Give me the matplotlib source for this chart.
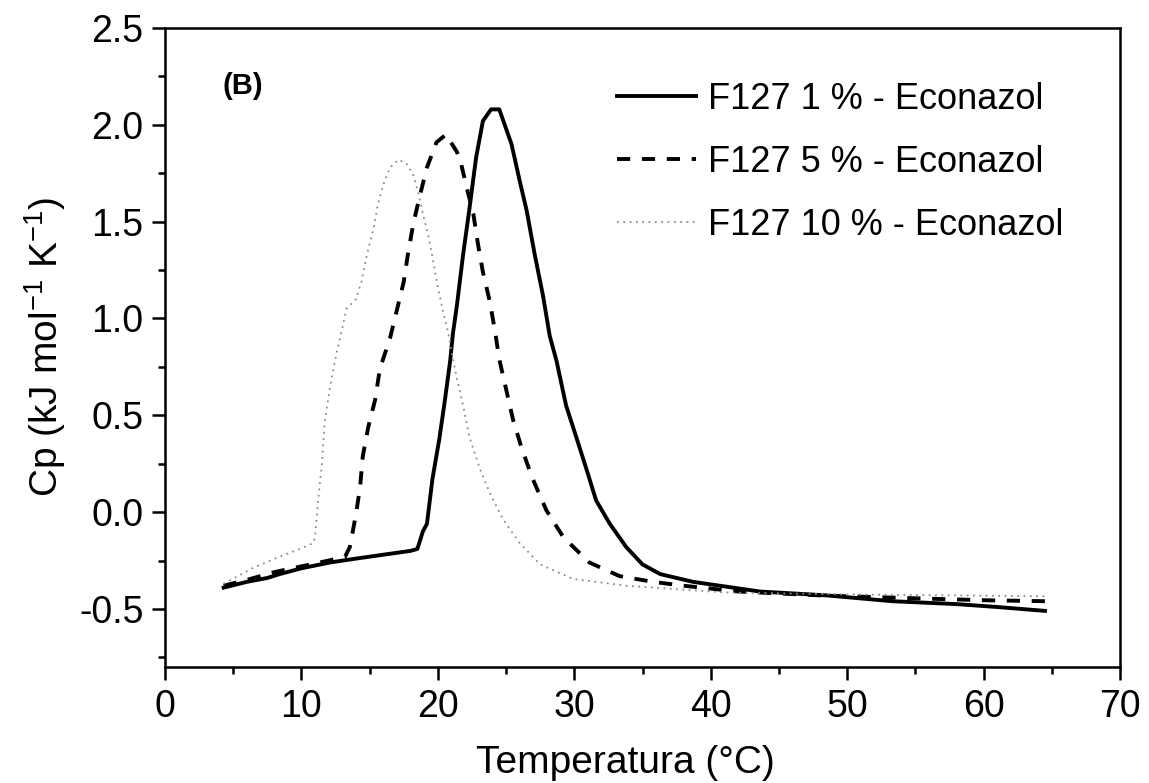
import matplotlib
matplotlib.use("Agg")
import matplotlib.pyplot as plt
from matplotlib.ticker import MultipleLocator

plt.rcParams["font.family"] = ["Liberation Sans", "DejaVu Sans"]
plt.rcParams["axes.unicode_minus"] = False
plt.rcParams["mathtext.fontset"] = "custom"
plt.rcParams["mathtext.rm"] = "Liberation Sans"

# F127 1 % - Econazol
temp_1 = [4.3, 6.0, 7.5, 8.4, 10.0, 12.1, 14.0, 16.0, 18.0, 18.5, 18.9, 19.2,
          19.6, 20.1, 20.5, 20.9, 21.1, 21.4, 21.85, 22.3, 22.8, 23.3, 23.9,
          24.5, 24.8, 25.4, 26.0, 26.5, 27.1, 27.7, 28.2, 28.7, 29.4, 30.2,
          30.9, 31.6, 32.6, 33.8, 35.0, 36.3, 38.7, 43.6, 48.5, 53.3, 58.0,
          61.0, 64.5]
cp_1 = [-0.39, -0.36, -0.34, -0.32, -0.29, -0.26, -0.24, -0.22, -0.20, -0.19,
        -0.10, -0.06, 0.17, 0.375, 0.57, 0.78, 0.92, 1.07, 1.33, 1.56, 1.83,
        2.02, 2.08, 2.08, 2.02, 1.90, 1.71, 1.56, 1.33, 1.12, 0.91, 0.78, 0.55,
        0.375, 0.22, 0.06, -0.06, -0.18, -0.27, -0.32, -0.36, -0.41, -0.43,
        -0.46, -0.475, -0.49, -0.51]

# F127 5 % - Econazol
temp_5 = [4.3, 6.0, 8.0, 10.0, 12.0, 13.2, 13.55, 14.0, 14.3, 14.5, 14.9, 15.4,
          15.75, 16.5, 16.95, 17.5, 17.8, 18.2, 18.7, 19.2, 19.9, 20.6, 21.4,
          21.7, 22.1, 22.6, 22.95, 23.3, 23.8, 24.2, 24.5, 25.0, 25.5, 26.1,
          26.9, 27.95, 29.2, 31.1, 33.3, 35.75, 38.0, 42.0, 48.0, 55.0, 60.0,
          64.5]
cp_5 = [-0.38, -0.35, -0.31, -0.28, -0.25, -0.23, -0.18, -0.01, 0.13, 0.29,
        0.44, 0.58, 0.74, 0.90, 1.03, 1.19, 1.33, 1.49, 1.64, 1.78, 1.91, 1.95,
        1.86, 1.80, 1.68, 1.54, 1.38, 1.24, 1.09, 0.93, 0.79, 0.635, 0.48,
        0.34, 0.18, 0.01, -0.13, -0.26, -0.33, -0.36, -0.38, -0.41, -0.43,
        -0.445, -0.455, -0.46]

# F127 10 % - Econazol
temp_10 = [4.3, 6.4, 8.4, 9.9, 10.85, 11.0, 11.2, 11.5, 11.7, 12.1, 12.6, 12.9,
           13.3, 14.0, 14.4, 14.8, 15.3, 15.6, 16.0, 16.5, 17.1, 17.7, 18.2,
           18.6, 18.9, 19.3, 19.7, 20.0, 20.4, 20.75, 21.0, 21.4, 21.85, 22.3,
           23.1, 23.8, 24.8, 26.0, 27.5, 29.9, 33.8, 41.1, 50.0, 58.2, 64.5]
cp_10 = [-0.37, -0.29, -0.23, -0.19, -0.16, -0.13, 0.045, 0.25, 0.46, 0.65,
         0.83, 0.92, 1.05, 1.10, 1.19, 1.33, 1.47, 1.59, 1.69, 1.78, 1.82, 1.80,
         1.74, 1.64, 1.54, 1.43, 1.28, 1.16, 1.03, 0.93, 0.83, 0.69, 0.55, 0.39,
         0.22, 0.10, -0.04, -0.16, -0.27, -0.345, -0.38, -0.415, -0.425, -0.43,
         -0.435]

labels = ["F127 1 % - Econazol", "F127 5 % - Econazol", "F127 10 % - Econazol"]


def main():
    fig = plt.figure(figsize=(11.49, 7.83), dpi=100)
    ax = fig.add_axes([0.1436, 0.1481, 0.8312, 0.8161])

    ax.plot(temp_1, cp_1, color="black", lw=2.8, ls="-", label=labels[0])
    ax.plot(temp_5, cp_5, color="black", lw=2.8, ls=(0, (3.4, 3.0)), label=labels[1])
    ax.plot(temp_10, cp_10, color="#8c8c8c", lw=1.3, ls=(0, (1, 2.5)), label=labels[2])

    ax.set_xlim(0, 70)
    ax.set_ylim(-0.8, 2.5)
    ax.xaxis.set_major_locator(MultipleLocator(10))
    ax.xaxis.set_minor_locator(MultipleLocator(5))
    ax.yaxis.set_major_locator(MultipleLocator(0.5))
    ax.yaxis.set_minor_locator(MultipleLocator(0.25))

    for s in ax.spines.values():
        s.set_linewidth(1.8)
    ax.tick_params(which="major", direction="out", length=9.5, width=1.8,
                   labelsize=27, pad=6)
    ax.tick_params(which="minor", direction="out", length=5, width=1.8)

    ax.set_xlabel("Temperatura (°C)", fontsize=28)
    ax.xaxis.set_label_coords(0.482, -0.122)
    ax.set_ylabel("Cp (kJ mol$^{-1}$ K$^{-1}$)", fontsize=28, labelpad=8)

    ax.text(0.06, 0.909, "(B)", transform=ax.transAxes, fontsize=21,
            fontweight="bold", va="center", ha="left")

    ax.legend(loc="upper left", bbox_to_anchor=(0.473, 0.916),
              frameon=False, fontsize=26, handlelength=2.2,
              handletextpad=0.33, labelspacing=0.78, borderpad=0,
              borderaxespad=0)

    fig.savefig("out.png", dpi=100)


if __name__ == "__main__":
    main()
